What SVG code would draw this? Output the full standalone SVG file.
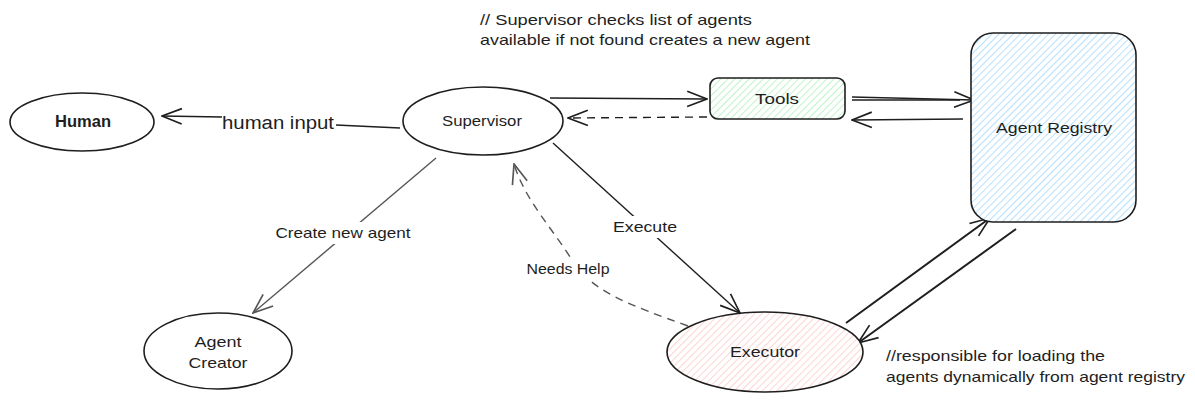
<svg xmlns="http://www.w3.org/2000/svg" width="1195" height="404" viewBox="0 0 1195 404">
<style>
text{font-family:"Liberation Sans","DejaVu Sans",sans-serif;fill:#1e1e1e}
.node{stroke:#1e1e1e;stroke-width:1.6}
.lbl{font-size:15px;text-anchor:middle}
.note{font-size:15px}
.c{fill:none;stroke:#1e1e1e;stroke-width:1.4}
.g{stroke:#555}
.thick{stroke-width:2}
.dash{stroke-dasharray:8 6}
</style>
<defs>
<pattern id="hg" patternUnits="userSpaceOnUse" width="5" height="5" patternTransform="rotate(45)"><rect width="5" height="5" fill="#fff"/><line x1="0" y1="0" x2="0" y2="5" stroke="#b2f2bb" stroke-width="1.6"/></pattern>
<pattern id="hb" patternUnits="userSpaceOnUse" width="5" height="5" patternTransform="rotate(45)"><rect width="5" height="5" fill="#fff"/><line x1="0" y1="0" x2="0" y2="5" stroke="#a5d8ff" stroke-width="1.6"/></pattern>
<pattern id="hr" patternUnits="userSpaceOnUse" width="5" height="5" patternTransform="rotate(45)"><rect width="5" height="5" fill="#fff"/><line x1="0" y1="0" x2="0" y2="5" stroke="#ffc9c9" stroke-width="1.6"/></pattern>
<marker id="a" markerUnits="userSpaceOnUse" viewBox="0 0 20 20" markerWidth="22" markerHeight="22" refX="19" refY="10" orient="auto"><path d="M1,3 L19,10 L1,17" fill="none" stroke="#1e1e1e" stroke-width="1.5"/></marker>
<marker id="ag" markerUnits="userSpaceOnUse" viewBox="0 0 20 20" markerWidth="22" markerHeight="22" refX="19" refY="10" orient="auto"><path d="M1,3 L19,10 L1,17" fill="none" stroke="#555" stroke-width="1.5"/></marker>
</defs>
<rect width="1195" height="404" fill="#fff"/>
<g id="connectors">
<path class="c" d="M400,128 L336,125"/>
<path class="c" d="M222,117 L162,116" marker-end="url(#a)"/>
<text x="278" y="129" textLength="112" lengthAdjust="spacingAndGlyphs" style="font-size:18px;text-anchor:middle">human input</text>
<path class="c" d="M550,98 L707,99" marker-end="url(#a)"/>
<path class="c dash" d="M707,117 L568,118" marker-end="url(#a)"/>
<path class="c" d="M852,97 L974,100" marker-end="url(#a)"/>
<path class="c" d="M852,100 L960,100"/>
<path class="c" d="M963,119 L852,120" marker-end="url(#a)"/>
<path class="c g" d="M436,158 L253,313" marker-end="url(#ag)"/>
<rect x="272" y="222" width="142" height="22" fill="#fff"/>
<text class="lbl" x="343" y="238" textLength="135" lengthAdjust="spacingAndGlyphs">Create new agent</text>
<path class="c" d="M553,143 L740,313" marker-end="url(#a)"/>
<rect x="609" y="216" width="72" height="22" fill="#fff"/>
<text class="lbl" x="645" y="232" textLength="64" lengthAdjust="spacingAndGlyphs">Execute</text>
<path class="c g dash" d="M688,326 C630,305 592,292 572,260 C552,228 525,200 514,164" marker-end="url(#ag)"/>
<rect x="522" y="258" width="92" height="22" fill="#fff"/>
<text class="lbl" x="568" y="274" textLength="83" lengthAdjust="spacingAndGlyphs">Needs Help</text>
<path class="c thick" d="M846,323 L990,218" marker-end="url(#a)"/>
<path class="c thick" d="M1016,229 L858,343" marker-end="url(#a)"/>
</g>
<g id="human"><ellipse class="node" cx="82" cy="122" rx="72" ry="29" fill="#fff"/><text class="lbl" x="83" y="127" textLength="56" lengthAdjust="spacingAndGlyphs" style="font-size:16px;font-weight:bold">Human</text></g>
<g id="supervisor"><ellipse class="node" cx="483" cy="121" rx="80" ry="34" fill="#fff"/><text class="lbl" x="482" y="126" textLength="80" lengthAdjust="spacingAndGlyphs">Supervisor</text></g>
<g id="tools"><rect class="node" x="710" y="78" width="135" height="41" rx="8" fill="url(#hg)"/><text class="lbl" x="777" y="104" textLength="44" lengthAdjust="spacingAndGlyphs">Tools</text></g>
<g id="agent-registry"><rect class="node" x="971" y="33" width="165" height="189" rx="22" fill="url(#hb)"/><text class="lbl" x="1054" y="133" textLength="116" lengthAdjust="spacingAndGlyphs">Agent Registry</text></g>
<g id="agent-creator"><ellipse class="node" cx="218" cy="351" rx="74" ry="38" fill="#fff"/><text class="lbl" x="218" y="347" textLength="47" lengthAdjust="spacingAndGlyphs">Agent</text><text class="lbl" x="218" y="368" textLength="59" lengthAdjust="spacingAndGlyphs">Creator</text></g>
<g id="executor"><ellipse class="node" cx="765" cy="352" rx="98" ry="40" fill="url(#hr)"/><text class="lbl" x="765" y="357" textLength="70" lengthAdjust="spacingAndGlyphs">Executor</text></g>
<g id="notes">
<text class="note" x="480" y="25" textLength="272" lengthAdjust="spacingAndGlyphs">// Supervisor checks list of agents</text>
<text class="note" x="480" y="45" textLength="330" lengthAdjust="spacingAndGlyphs">available if not found creates a new agent</text>
<text class="note" x="886" y="361" textLength="219" lengthAdjust="spacingAndGlyphs">//responsible for loading the</text>
<text class="note" x="886" y="382" textLength="299" lengthAdjust="spacingAndGlyphs">agents dynamically from agent registry</text>
</g>
</svg>
